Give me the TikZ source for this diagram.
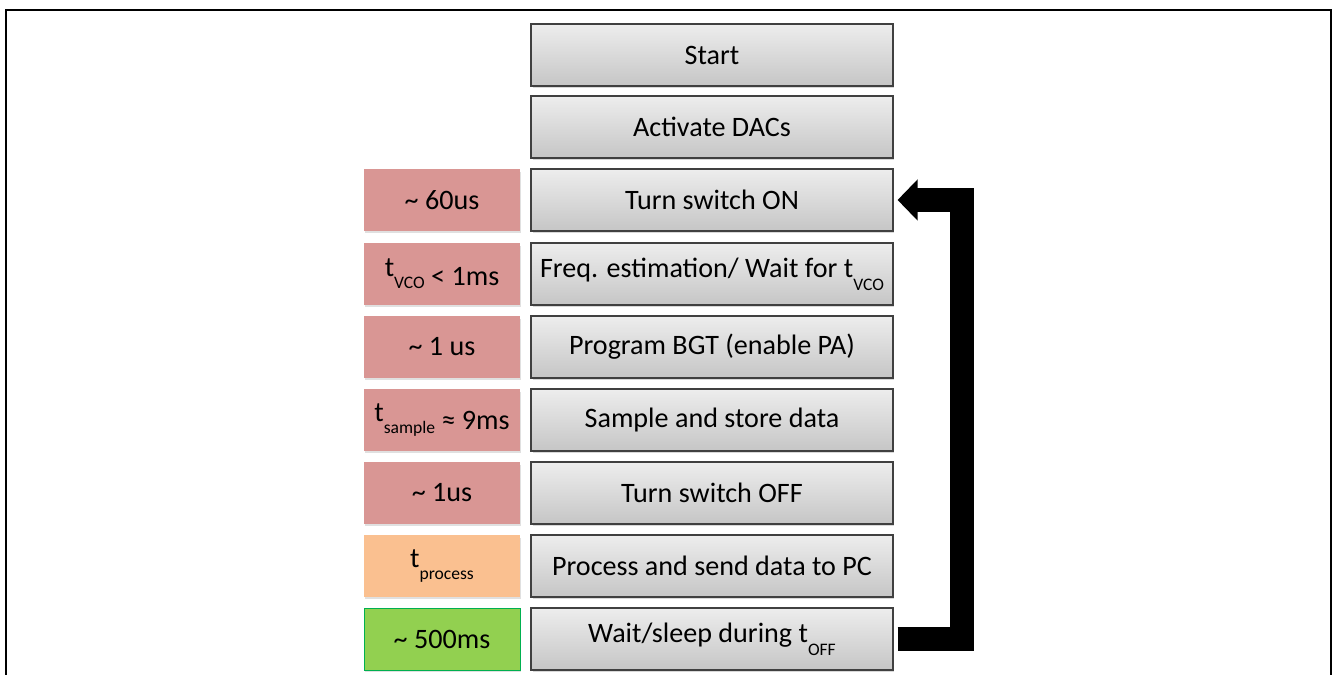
\documentclass[tikz,border=0pt]{standalone}
\usepackage{fontspec}
\setmainfont{Carlito}
\usetikzlibrary{arrows.meta,shadows}

\newcommand{\tlow}[1]{t\raisebox{-0.45em}{\fontsize{10}{10}\selectfont #1}}
\newcommand{\tleft}[1]{\raisebox{0.3em}{t}\raisebox{-0.12em}{\fontsize{10}{10}\selectfont #1}}

\tikzset{
  stepbox/.style={draw=black!75, line width=0.7pt, top color=gray!14, bottom color=gray!45,
    minimum width=7.24cm, minimum height=1.24cm, inner sep=0pt,
    drop shadow={shadow xshift=0.03cm, shadow yshift=-0.05cm, fill=gray!60, opacity=0.5}},
  timebox/.style={minimum width=3.12cm, minimum height=1.24cm, inner sep=0pt,
    drop shadow={shadow xshift=0.02cm, shadow yshift=-0.05cm, fill=gray!60, opacity=0.4}},
  slow/.style={timebox, fill={rgb,255:red,217;green,150;blue,148}},
  mid/.style={timebox, fill={rgb,255:red,250;green,192;blue,144}},
  idle/.style={timebox, fill={rgb,255:red,146;green,208;blue,80}, draw={rgb,255:red,0;green,176;blue,80}, line width=0.5pt},
  loopback/.style={line width=0.48cm, line join=miter, -{Triangle[width=0.8cm,length=0.4cm]}}
}

\begin{document}
\begin{tikzpicture}[x=0.02cm, y=-0.02cm, font=\fontsize{16}{19}\selectfont]
\useasboundingbox (0,0) rectangle (1333,675);
\draw[line width=0.04cm] (6,675) -- (6,10) -- (1331,10) -- (1331,675);

\node[stepbox] (s01) at (712, 55) {Start};
\node[stepbox] (s02) at (712, 127) {Activate DACs};
\node[stepbox] (s03) at (712, 200) {Turn switch ON};
\node[stepbox] (s04) at (712, 274) {Freq. estimation/ Wait for \tlow{VCO}};
\node[stepbox] (s05) at (712, 347) {Program BGT (enable PA)};
\node[stepbox] (s06) at (712, 420) {Sample and store data};
\node[stepbox] (s07) at (712, 493) {Turn switch OFF};
\node[stepbox] (s08) at (712, 566) {Process and send data to PC};
\node[stepbox] (s09) at (712, 639) {Wait/sleep during \tlow{OFF}};

\node[slow] (t03) at (442, 200) {\textasciitilde{} 60us};
\node[slow] (t04) at (442, 274) {\tleft{VCO} < 1ms};
\node[slow] (t05) at (442, 347) {\textasciitilde{} 1 us};
\node[slow] (t06) at (442, 420) {\tleft{sample} ≈ 9ms};
\node[slow] (t07) at (442, 493) {\textasciitilde{} 1us};
\node[mid] (t08) at (442, 566) {\tlow{process}};
\node[idle] (t09) at (442, 639) {\textasciitilde{} 500ms};

\draw[loopback] ([xshift=0.08cm]s09.east) -- ++(64,0) |- ([xshift=0.08cm]s03.east);
\end{tikzpicture}
\end{document}
